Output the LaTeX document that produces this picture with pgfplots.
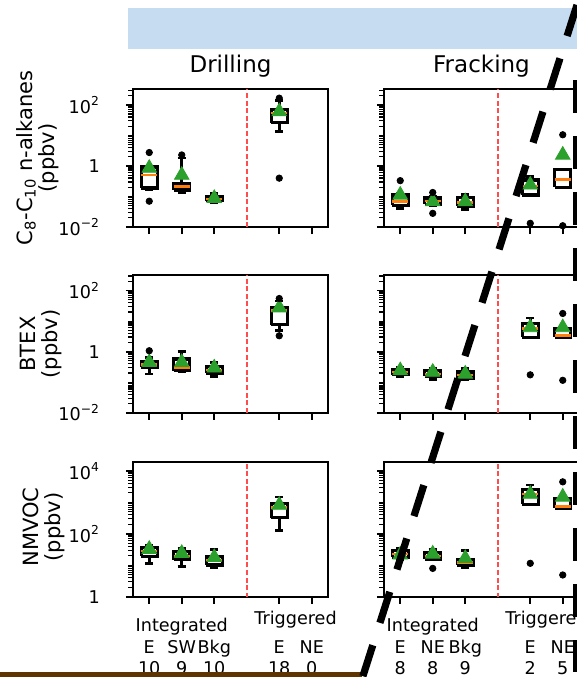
\documentclass[border=0pt]{standalone}
\usepackage{fontspec}
\setmainfont{DejaVu Sans}
\usepackage{pgfplots}
\pgfplotsset{compat=1.18}

\definecolor{mplorange}{HTML}{FF7F0E}
\definecolor{mplgreen}{HTML}{2CA02C}
\definecolor{bannerblue}{HTML}{C6DCF1}
\definecolor{brownbar}{HTML}{5E3500}
\definecolor{divred}{HTML}{FF4D4D}

\pgfplotsset{
  whisk/.style={black, line width=1.4pt, forget plot},
  boxs/.style={draw=black, fill=white, line width=1.6pt, forget plot},
  medl/.style={draw=mplorange, line width=1.3pt, forget plot},
  meanm/.style={only marks, mark=triangle*, mark size=4.2pt, mark options={fill=mplgreen, draw=mplgreen}, forget plot},
  fl/.style={only marks, mark=*, mark size=1.6pt, black, mark options={fill=black}, forget plot},
  divl/.style={divred, line width=0.9pt, dash pattern=on 2.5pt off 1.3pt, forget plot},
  every axis/.append style={
    scale only axis, width=97.5pt,
    xmin=-0.5, xmax=5.5,
    axis line style={line width=0.9pt},
    tick align=outside, xtick pos=left, ytick pos=left,
    major tick length=3.5pt, minor tick length=2.3pt,
    every tick/.append style={black, line width=0.9pt},
    every minor tick/.append style={black, line width=0.6pt},
    xtick={0,1,2,4,5},
    tick label style={font=\fontsize{8.8}{10.75}\selectfont},
    yticklabel style={xshift=-9.5pt},
    xticklabel style={align=center, yshift=-3pt},
  },
}

% box: position, lower whisker, q1, median, q3, upper whisker, mean
\newcommand{\bx}[7]{%
  \pgfmathsetmacro\boxL{#1-0.25}\pgfmathsetmacro\boxR{#1+0.25}%
  \pgfmathsetmacro\capL{#1-0.125}\pgfmathsetmacro\capR{#1+0.125}%
  \addplot[whisk] coordinates {(#1,#2) (#1,#3)};
  \addplot[whisk] coordinates {(#1,#5) (#1,#6)};
  \edef\tmp{\noexpand\addplot[whisk] coordinates {(\capL,#2) (\capR,#2)};}\tmp
  \edef\tmp{\noexpand\addplot[whisk] coordinates {(\capL,#6) (\capR,#6)};}\tmp
  \edef\tmp{\noexpand\addplot[boxs] coordinates {(\boxL,#3) (\boxR,#3) (\boxR,#5) (\boxL,#5) (\boxL,#3)};}\tmp
  \edef\tmp{\noexpand\addplot[medl] coordinates {(\boxL,#4) (\boxR,#4)};}\tmp
  \addplot[meanm] coordinates {(#1,#7)};
}

\begin{document}
\begin{tikzpicture}
\path[use as bounding box] (0pt,0pt) rectangle (288.5pt,338.5pt);
\fill[bannerblue] (64pt,314pt) rectangle (300pt,334.5pt);
\node[font=\fontsize{11.5}{13}\selectfont, anchor=base] at (115.25pt,302.5pt) {Drilling};
\node[font=\fontsize{11.5}{13}\selectfont, anchor=base] at (240.75pt,302.5pt) {Fracking};

\node[rotate=90, align=center, font=\fontsize{10.5}{11}\selectfont] at (18.75pt,259.5pt) {C\textsubscript{8}-C\textsubscript{10} n-alkanes\\(ppbv)};
\node[rotate=90, align=center, font=\fontsize{10.5}{11}\selectfont] at (20.5pt,166.5pt) {BTEX\\(ppbv)};
\node[rotate=90, align=center, font=\fontsize{10.5}{11}\selectfont] at (21.75pt,75pt) {NMVOC\\(ppbv)};

% Row 1, Drilling
\begin{axis}[ymode=log, anchor=south west, at={(66.5pt,225pt)}, height=68.85pt,
  ymin=0.01, ymax=324, ytick={0.01,1,100},
  minor ytick={0.02,0.03,0.04,0.05,0.06,0.07,0.08,0.09,0.1,0.2,0.3,0.4,0.5,0.6,0.7,0.8,0.9,2,3,4,5,6,7,8,9,10,20,30,40,50,60,70,80,90,200,300},
  xticklabels={}, yticklabels={10\textsuperscript{−2},1,10\textsuperscript{2}}]
\addplot[divl] coordinates {(3,0.001) (3,10000)};
\bx{0}{0.17}{0.19}{0.50}{0.93}{0.98}{0.85}
\addplot[fl] coordinates {(0,2.75) (0,0.07)};
\bx{1}{0.132}{0.162}{0.209}{0.257}{1.82}{0.50}
\addplot[fl] coordinates {(1,2.29)};
\bx{2}{0.063}{0.072}{0.083}{0.10}{0.126}{0.087}
\bx{4}{13.2}{26.3}{53.7}{72.4}{138}{60.3}
\addplot[fl] coordinates {(4,166) (4,0.398)};
\end{axis}

% Row 1, Fracking
\begin{axis}[ymode=log, anchor=south west, at={(192pt,225pt)}, height=68.85pt,
  ymin=0.01, ymax=324, ytick={0.01,1,100},
  minor ytick={0.02,0.03,0.04,0.05,0.06,0.07,0.08,0.09,0.1,0.2,0.3,0.4,0.5,0.6,0.7,0.8,0.9,2,3,4,5,6,7,8,9,10,20,30,40,50,60,70,80,90,200,300},
  xticklabels={}, yticklabels={}]
\addplot[divl] coordinates {(3,0.001) (3,10000)};
\bx{0}{0.041}{0.052}{0.068}{0.112}{0.126}{0.112}
\addplot[fl] coordinates {(0,0.33)};
\bx{1}{0.05}{0.056}{0.071}{0.089}{0.10}{0.068}
\addplot[fl] coordinates {(1,0.135) (1,0.028)};
\bx{2}{0.038}{0.049}{0.063}{0.093}{0.117}{0.068}
\bx{4}{0.112}{0.112}{0.219}{0.347}{0.447}{0.24}
\addplot[fl] coordinates {(4,0.0132)};
\bx{5}{0.19}{0.20}{0.363}{0.776}{0.79}{2.29}
\addplot[fl] coordinates {(5,10.5) (5,0.011)};
\end{axis}

% Row 2, Drilling
\begin{axis}[ymode=log, anchor=south west, at={(66.5pt,132.15pt)}, height=68.85pt,
  ymin=0.01, ymax=324, ytick={0.01,1,100},
  minor ytick={0.02,0.03,0.04,0.05,0.06,0.07,0.08,0.09,0.1,0.2,0.3,0.4,0.5,0.6,0.7,0.8,0.9,2,3,4,5,6,7,8,9,10,20,30,40,50,60,70,80,90,200,300},
  xticklabels={}, yticklabels={10\textsuperscript{−2},1,10\textsuperscript{2}}]
\addplot[divl] coordinates {(3,0.001) (3,10000)};
\bx{0}{0.186}{0.309}{0.38}{0.479}{0.66}{0.447}
\addplot[fl] coordinates {(0,1.07)};
\bx{1}{0.224}{0.24}{0.309}{0.575}{1.02}{0.447}
\bx{2}{0.155}{0.20}{0.251}{0.324}{0.447}{0.295}
\bx{4}{4.79}{7.59}{21.9}{27.5}{45.7}{27.5}
\addplot[fl] coordinates {(4,55) (4,3.31)};
\end{axis}

% Row 2, Fracking
\begin{axis}[ymode=log, anchor=south west, at={(192pt,132.15pt)}, height=68.85pt,
  ymin=0.01, ymax=324, ytick={0.01,1,100},
  minor ytick={0.02,0.03,0.04,0.05,0.06,0.07,0.08,0.09,0.1,0.2,0.3,0.4,0.5,0.6,0.7,0.8,0.9,2,3,4,5,6,7,8,9,10,20,30,40,50,60,70,80,90,200,300},
  xticklabels={}, yticklabels={}]
\addplot[divl] coordinates {(3,0.001) (3,10000)};
\bx{0}{0.155}{0.178}{0.214}{0.251}{0.309}{0.24}
\bx{1}{0.12}{0.155}{0.186}{0.24}{0.288}{0.214}
\bx{2}{0.12}{0.138}{0.174}{0.214}{0.288}{0.186}
\bx{4}{2.95}{2.95}{5.75}{8.32}{12.6}{6.17}
\addplot[fl] coordinates {(4,0.174)};
\bx{5}{2.95}{2.95}{3.31}{5.5}{5.5}{6.17}
\addplot[fl] coordinates {(5,17.8) (5,0.115)};
\end{axis}

% Row 3, Drilling
\begin{axis}[ymode=log, anchor=south west, at={(66.5pt,40.15pt)}, height=67.5pt,
  ymin=1, ymax=19500, ytick={1,100,10000},
  minor ytick={2,3,4,5,6,7,8,9,10,20,30,40,50,60,70,80,90,200,300,400,500,600,700,800,900,1000,2000,3000,4000,5000,6000,7000,8000,9000},
  xticklabels={{\strut\\E\\10},{\strut Integrated\\SW\\9},{\strut\\Bkg\\10},{\strut\\E\\18},{\strut\\NE\\0}},
  extra x ticks={4.5}, extra x tick labels={{\strut Triggered\\\strut\\\strut}},
  extra x tick style={major tick length=0pt},
  yticklabels={1,10\textsuperscript{2},10\textsuperscript{4}}]
\addplot[divl] coordinates {(3,0.1) (3,100000)};
\bx{0}{11.5}{19.5}{28.2}{37.2}{43.7}{32.4}
\bx{1}{9.33}{14.8}{19.5}{26.9}{34.7}{24}
\bx{2}{8.51}{10.2}{14.8}{19.5}{31.6}{17.8}
\bx{4}{126}{324}{692}{912}{1479}{813}
\end{axis}

% Row 3, Fracking
\begin{axis}[ymode=log, anchor=south west, at={(192pt,40.15pt)}, height=67.5pt,
  ymin=1, ymax=19500, ytick={1,100,10000},
  minor ytick={2,3,4,5,6,7,8,9,10,20,30,40,50,60,70,80,90,200,300,400,500,600,700,800,900,1000,2000,3000,4000,5000,6000,7000,8000,9000},
  xticklabels={{\strut\\E\\8},{\strut Integrated\\NE\\8},{\strut\\Bkg\\9},{\strut\\E\\2},{\strut\\NE\\5}},
  extra x ticks={4.5}, extra x tick labels={{\strut Triggered\\\strut\\\strut}},
  extra x tick style={major tick length=0pt},
  yticklabels={}]
\addplot[divl] coordinates {(3,0.1) (3,100000)};
\bx{0}{14.8}{17.8}{22.9}{28.8}{34.7}{21.4}
\bx{1}{15.5}{15.5}{19.5}{25.1}{32.4}{22.9}
\addplot[fl] coordinates {(1,7.94)};
\bx{2}{8.51}{10.2}{12.0}{14.8}{28.8}{16.6}
\bx{4}{871}{871}{1820}{2570}{3548}{1820}
\addplot[fl] coordinates {(4,11.5)};
\bx{5}{646}{646}{724}{1318}{1318}{1479}
\addplot[fl] coordinates {(5,4467) (5,4.9)};
\end{axis}

\fill[brownbar] (0pt,0pt) rectangle (181pt,2.65pt);
\draw[line width=3.6pt, dash pattern=on 16.25pt off 11.75pt] (288.5pt,336pt) -- (179.25pt,-6.5pt);
\draw[line width=3.6pt, dash pattern=on 16.25pt off 11.75pt] (288.25pt,298.5pt) -- (288.25pt,-10pt);
\end{tikzpicture}
\end{document}
